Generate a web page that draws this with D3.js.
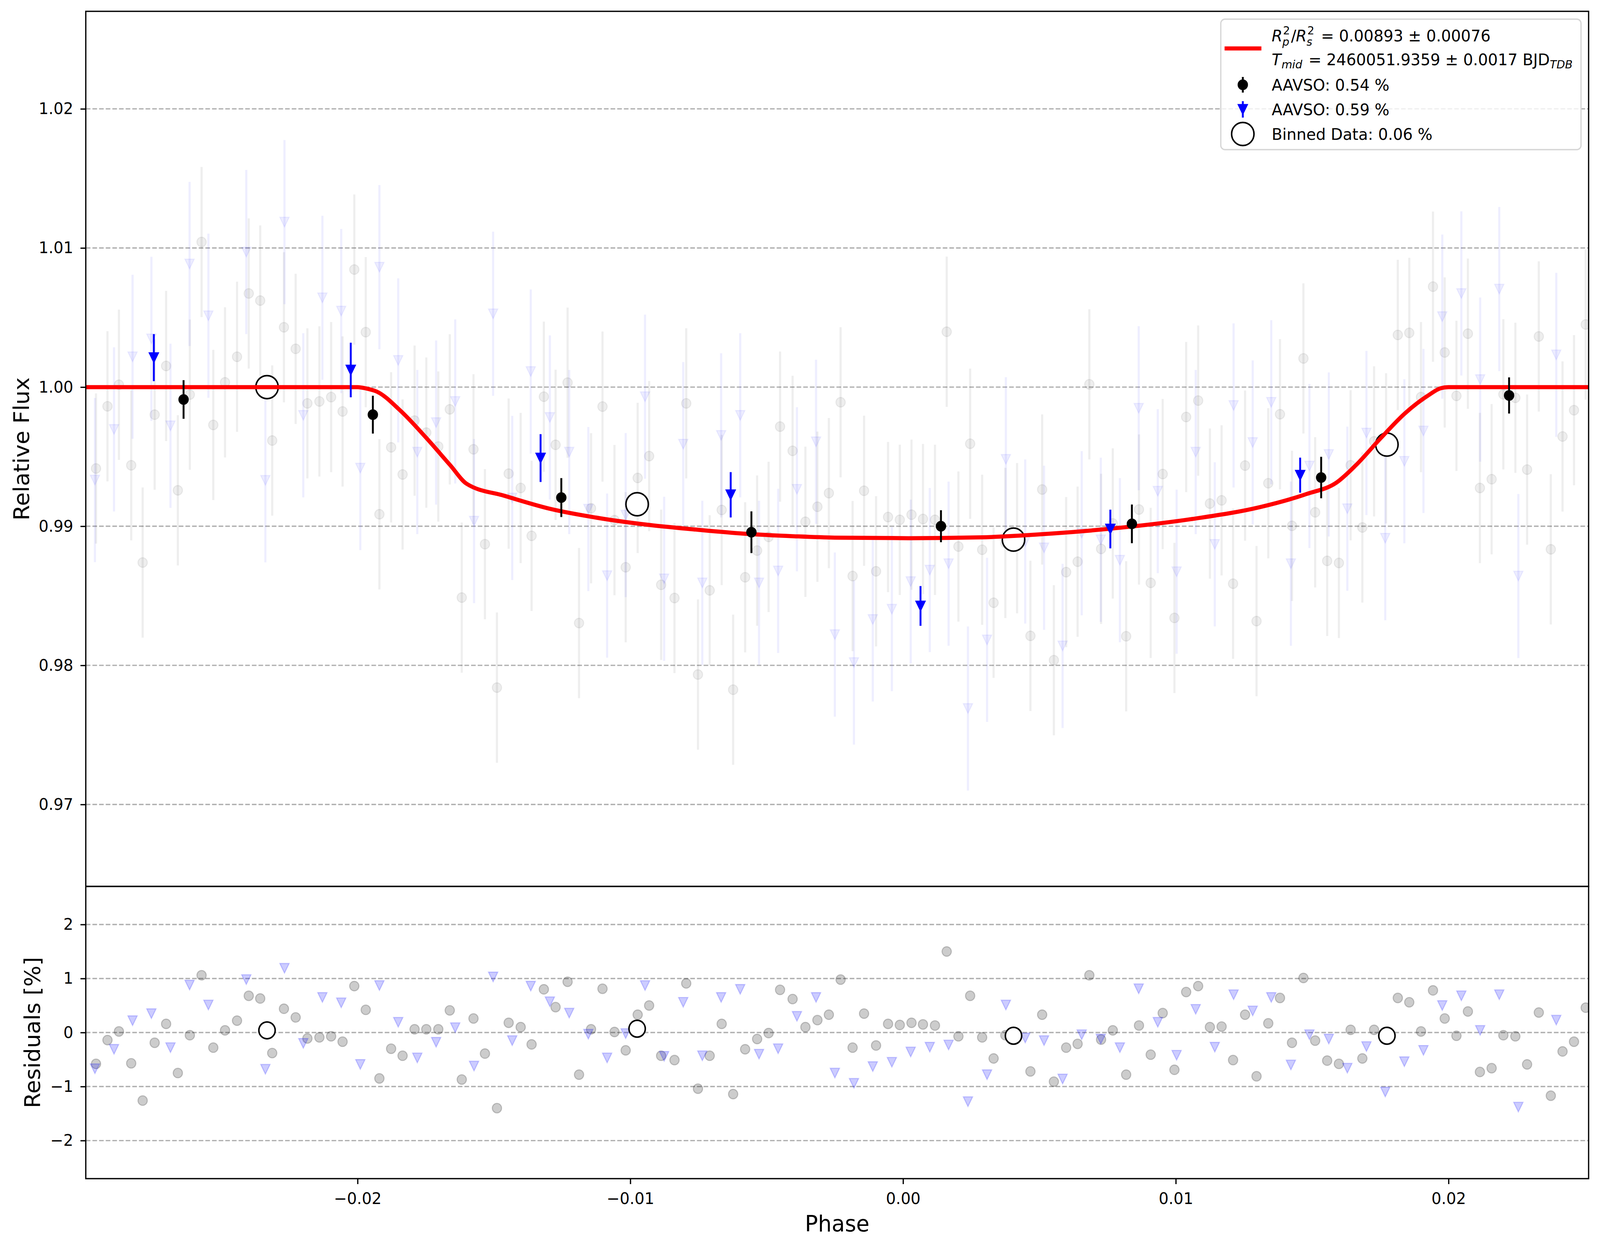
<!DOCTYPE html>
<html>
<head>
<meta charset="utf-8">
<script src="https://cdn.jsdelivr.net/npm/d3@7"></script>
<style>
  html, body { margin: 0; padding: 0; width: 100%; height: 100%; overflow: hidden; background: #fff; }
  #chart { width: 100vw; height: 100vh; }
  svg { display: block; width: 100vw; height: 100vh; }
</style>
</head>
<body>
<div id="chart"></div>
<script>
// ---- values ----

// AAVSO set 1 (grey circles): phase, relative flux, residual [%]
const grayPhase = [
  -0.02959, -0.02917, -0.02875, -0.02830, -0.02788, -0.02744, -0.02702, -0.02659, -0.02615, -0.02572,
  -0.02529, -0.02486, -0.02442, -0.02399, -0.02357, -0.02313, -0.02270, -0.02227, -0.02184, -0.02140,
  -0.02097, -0.02055, -0.02012, -0.01970, -0.01920, -0.01877, -0.01835, -0.01791, -0.01748, -0.01704,
  -0.01662, -0.01618, -0.01575, -0.01533, -0.01489, -0.01446, -0.01402, -0.01362, -0.01317, -0.01274,
  -0.01230, -0.01188, -0.01144, -0.01102, -0.01058, -0.01017, -0.00973, -0.00931, -0.00887, -0.00838,
  -0.00795, -0.00752, -0.00709, -0.00665, -0.00623, -0.00579, -0.00535, -0.00493, -0.00451, -0.00405,
  -0.00358, -0.00314, -0.00272, -0.00229, -0.00185, -0.00143, -0.00099, -0.00055, -0.00012, 0.00031,
  0.00073, 0.00117, 0.00160, 0.00203, 0.00246, 0.00290, 0.00332, 0.00375, 0.00418, 0.00467,
  0.00510, 0.00553, 0.00598, 0.00640, 0.00683, 0.00726, 0.00769, 0.00818, 0.00865, 0.00908,
  0.00952, 0.00995, 0.01038, 0.01082, 0.01125, 0.01168, 0.01210, 0.01254, 0.01296, 0.01339,
  0.01382, 0.01426, 0.01468, 0.01511, 0.01555, 0.01598, 0.01641, 0.01684, 0.01727, 0.01771,
  0.01814, 0.01856, 0.01899, 0.01943, 0.01986, 0.02029, 0.02071, 0.02115, 0.02158, 0.02201,
  0.02245, 0.02288, 0.02331, 0.02375, 0.02418, 0.02460, 0.02503];
const grayFlux = [
  0.99415, 0.99862, 1.00017, 0.99438, 0.98739, 0.99802, 1.00152, 0.99258, 0.99946, 1.01043,
  0.99728, 1.00034, 1.00218, 1.00673, 1.00622, 0.99616, 1.00430, 1.00275, 0.99883, 0.99897,
  0.99928, 0.99825, 1.00845, 1.00395, 0.99086, 0.99567, 0.99372, 0.99759, 0.99673, 0.99573,
  0.99840, 0.98487, 0.99553, 0.98871, 0.97840, 0.99378, 0.99275, 0.98931, 0.99931, 0.99585,
  1.00032, 0.98304, 0.99129, 0.99860, 0.99044, 0.98705, 0.99347, 0.99504, 0.98579, 0.98484,
  0.99883, 0.97934, 0.98539, 0.99117, 0.97825, 0.98633, 0.98825, 0.98923, 0.99716, 0.99542,
  0.99032, 0.99140, 0.99238, 0.99891, 0.98642, 0.99255, 0.98676, 0.99066, 0.99046, 0.99083,
  0.99052, 0.99046, 1.00398, 0.98854, 0.99593, 0.98831, 0.98450, 0.98880, 0.98914, 0.98212,
  0.99264, 0.98037, 0.98670, 0.98745, 1.00020, 0.98837, 0.99020, 0.98209, 0.99120, 0.98593,
  0.99375, 0.98341, 0.99785, 0.99903, 0.99163, 0.99186, 0.98587, 0.99436, 0.98318, 0.99309,
  0.99805, 0.99003, 1.00206, 0.99100, 0.98751, 0.98736, 0.99438, 0.98991, 0.99610, 0.99560,
  1.00375, 1.00390, 0.99928, 1.00722, 1.00249, 0.99937, 1.00384, 0.99275, 0.99338, 0.99948,
  0.99923, 0.99407, 1.00364, 0.98834, 0.99645, 0.99834, 1.00450];
const grayResid = [
  -0.58, -0.14, 0.02, -0.57, -1.26, -0.19, 0.16, -0.75, -0.05, 1.06,
  -0.28, 0.04, 0.22, 0.68, 0.63, -0.38, 0.44, 0.28, -0.11, -0.09,
  -0.07, -0.17, 0.86, 0.42, -0.85, -0.30, -0.43, 0.06, 0.06, 0.06,
  0.41, -0.87, 0.26, -0.39, -1.40, 0.18, 0.10, -0.22, 0.80, 0.47,
  0.94, -0.78, 0.06, 0.81, 0.01, -0.33, 0.33, 0.50, -0.43, -0.51,
  0.91, -1.04, -0.43, 0.16, -1.14, -0.31, -0.12, -0.01, 0.79, 0.62,
  0.10, 0.23, 0.33, 0.98, -0.28, 0.35, -0.24, 0.16, 0.14, 0.18,
  0.15, 0.13, 1.50, -0.07, 0.68, -0.09, -0.48, -0.05, -0.02, -0.72,
  0.33, -0.91, -0.28, -0.21, 1.06, -0.13, 0.04, -0.78, 0.13, -0.41,
  0.36, -0.69, 0.75, 0.86, 0.10, 0.11, -0.51, 0.33, -0.81, 0.17,
  0.64, -0.19, 1.01, -0.15, -0.52, -0.58, 0.05, -0.48, 0.05, -0.12,
  0.64, 0.56, 0.02, 0.78, 0.26, -0.06, 0.39, -0.73, -0.66, -0.05,
  -0.07, -0.59, 0.37, -1.17, -0.35, -0.17, 0.46];
const grayErr = 0.0054;

// AAVSO set 2 (blue triangles)
const bluePhase = [
  -0.02963, -0.02893, -0.02825, -0.02756, -0.02686, -0.02616, -0.02547, -0.02408, -0.02338, -0.02268,
  -0.02199, -0.02129, -0.02060, -0.01990, -0.01920, -0.01851, -0.01781, -0.01712, -0.01642, -0.01573,
  -0.01503, -0.01433, -0.01365, -0.01295, -0.01224, -0.01154, -0.01085, -0.01017, -0.00946, -0.00876,
  -0.00806, -0.00736, -0.00667, -0.00597, -0.00528, -0.00458, -0.00389, -0.00319, -0.00250, -0.00180,
  -0.00111, -0.00041, 0.00028, 0.00098, 0.00167, 0.00238, 0.00308, 0.00377, 0.00448, 0.00517,
  0.00585, 0.00655, 0.00725, 0.00795, 0.00864, 0.00934, 0.01003, 0.01073, 0.01143, 0.01212,
  0.01282, 0.01350, 0.01422, 0.01490, 0.01561, 0.01629, 0.01699, 0.01768, 0.01838, 0.01908,
  0.01977, 0.02047, 0.02116, 0.02186, 0.02256, 0.02395];
const blueFlux = [
  0.99332, 0.99696, 1.00218, 1.00347, 0.99722, 1.00885, 1.00513, 1.00971, 0.99330, 1.01186,
  0.99797, 1.00642, 1.00547, 0.99418, 1.00862, 1.00192, 0.99533, 0.99745, 0.99897, 0.99037,
  1.00527, 0.99203, 1.00112, 0.99782, 0.99533, 0.99123, 0.98645, 0.99080, 0.99931, 0.98622,
  0.99590, 0.98593, 0.99653, 0.99797, 0.98593, 0.98679, 0.99266, 0.99607, 0.98221, 0.98020,
  0.98330, 0.98404, 0.98602, 0.98685, 0.98731, 0.97690, 0.98183, 0.99481, 0.98890, 0.98845,
  0.98140, 0.98950, 0.98903, 0.98756, 0.99848, 0.99252, 0.98673, 0.99533, 0.98870, 0.99868,
  0.99602, 0.99891, 0.98731, 0.99433, 0.99516, 0.99126, 0.99670, 0.98914, 0.99467, 0.99685,
  1.00507, 1.00673, 1.00054, 1.00705, 0.98642, 1.00232];
const blueResid = [
  -0.67, -0.31, 0.22, 0.35, -0.28, 0.88, 0.51, 0.98, -0.68, 1.19,
  -0.20, 0.65, 0.55, -0.59, 0.87, 0.19, -0.47, -0.18, 0.09, -0.62,
  1.03, -0.15, 0.86, 0.57, 0.36, -0.03, -0.47, -0.02, 0.87, -0.44,
  0.56, -0.43, 0.65, 0.80, -0.40, -0.30, 0.30, 0.65, -0.75, -0.94,
  -0.63, -0.55, -0.36, -0.27, -0.23, -1.28, -0.78, 0.51, -0.10, -0.15,
  -0.86, -0.04, -0.12, -0.28, 0.81, 0.19, -0.42, 0.43, -0.27, 0.70,
  0.40, 0.65, -0.60, -0.04, -0.12, -0.66, -0.26, -1.10, -0.54, -0.33,
  0.50, 0.68, 0.04, 0.70, -1.38, 0.23];
const blueErr = 0.0059;

// binned set 1 (black dots)
const bin1Phase = [-0.02638, -0.01944, -0.01253, -0.00556, 0.00139, 0.00839, 0.01533, 0.02222];
const bin1Flux  = [0.99911, 0.99802, 0.99206, 0.98957, 0.99000, 0.99017, 0.99350, 0.99940];
const bin1Err   = [0.00139, 0.00136, 0.00140, 0.00150, 0.00115, 0.00139, 0.00149, 0.00130];

// binned set 2 (blue triangles)
const bin2Phase = [-0.02747, -0.02025, -0.01329, -0.00632, 0.00064, 0.00760, 0.01456];
const bin2Flux  = [1.00212, 1.00123, 0.99490, 0.99226, 0.98427, 0.98980, 0.99367];
const bin2Err   = [0.00169, 0.00196, 0.00172, 0.00163, 0.00143, 0.00139, 0.00126];

// binned data, both sets (open circles)
const binAllPhase = [-0.02332, -0.00975, 0.00405, 0.01774];
const binAllFlux  = [1.00000, 0.99158, 0.98904, 0.99587];
const binAllResid = [0.04, 0.07, -0.06, -0.06];

// transit model (red line)
const modelPhase = [-0.0300, -0.0200, -0.0197, -0.0193, -0.0184, -0.0175, -0.0166, -0.0160, -0.0146,
  -0.0129, -0.0111, -0.0093, -0.0075, -0.0058, -0.0040, -0.0025, 0.0002, 0.0028, 0.0055, 0.0082,
  0.0106, 0.0131, 0.0148, 0.0159, 0.0166, 0.0175, 0.0184, 0.0193, 0.0197, 0.0200, 0.0252];
const modelFlux = [1.0, 1.0, 0.99991, 0.99968, 0.99825, 0.99639, 0.99438, 0.99305, 0.99218,
  0.99123, 0.99057, 0.99009, 0.98974, 0.98946, 0.98928, 0.98918, 0.98914, 0.98920, 0.98948, 0.98994,
  0.99052, 0.99138, 0.99232, 0.99315, 0.99438, 0.99630, 0.99811, 0.99946, 0.99991, 1.0, 1.0];

// ticks
const phaseTicks = [-0.02, -0.01, 0.00, 0.01, 0.02];
const fluxTicks = [0.97, 0.98, 0.99, 1.00, 1.01, 1.02];
const residTicks = [-2, -1, 0, 1, 2];

const legendLabels = ["AAVSO: 0.54 %", "AAVSO: 0.59 %", "Binned Data: 0.06 %"];

// ---- layout (figure pixels, scaled to the window with a viewBox) ----
const W = 4215, H = 3192;
const plotLeft = 226, plotRight = 4185, topY = 29, midY = 2269, bottomY = 3017;
const FONT = "DejaVu Sans";

const svg = d3.select("#chart").append("svg")
  .attr("viewBox", `0 0 ${W} ${H}`)
  .attr("preserveAspectRatio", "none")
  .attr("font-family", FONT);

svg.append("rect").attr("width", W).attr("height", H).attr("fill", "#fff");

const x = d3.scaleLinear().domain([-0.029965, 0.025136]).range([plotLeft, plotRight]);
const yFlux = d3.scaleLinear().domain([0.96411, 1.02701]).range([midY, topY]);
const yRes = d3.scaleLinear().domain([-2.705, 2.705]).range([bottomY, midY]);

const defs = svg.append("defs");
defs.append("clipPath").attr("id", "clipTop").append("rect")
  .attr("x", plotLeft).attr("y", topY).attr("width", plotRight - plotLeft).attr("height", midY - topY);
defs.append("clipPath").attr("id", "clipBot").append("rect")
  .attr("x", plotLeft).attr("y", midY).attr("width", plotRight - plotLeft).attr("height", bottomY - midY);

// triangle_down marker path
const tri = (cx, cy, s) => `M${cx},${cy + s}L${cx - s},${cy - s}L${cx + s},${cy - s}Z`;
const MS = 12.3;

function drawGrid(scale, ticks) {
  svg.append("g").selectAll("line").data(ticks).join("line")
    .attr("x1", plotLeft).attr("x2", plotRight)
    .attr("y1", d => scale(d)).attr("y2", d => scale(d))
    .attr("stroke", "#b0b0b0").attr("stroke-width", 3.3)
    .attr("stroke-dasharray", "12.2,5.3");
}

const gray = grayPhase.map((p, i) => ({p, f: grayFlux[i], r: grayResid[i]}));
const blue = bluePhase.map((p, i) => ({p, f: blueFlux[i], r: blueResid[i]}));

// ================= top panel =================
drawGrid(yFlux, fluxTicks);
const topG = svg.append("g").attr("clip-path", "url(#clipTop)");

// raw set 1
const gTop1 = topG.append("g");
gTop1.selectAll("line").data(gray).join("line")
  .attr("x1", d => x(d.p)).attr("x2", d => x(d.p))
  .attr("y1", d => yFlux(d.f - grayErr)).attr("y2", d => yFlux(d.f + grayErr))
  .attr("stroke", "#000").attr("stroke-opacity", 0.065).attr("stroke-width", 5.7);
gTop1.selectAll("circle").data(gray).join("circle")
  .attr("cx", d => x(d.p)).attr("cy", d => yFlux(d.f)).attr("r", MS)
  .attr("fill", "#000").attr("fill-opacity", 0.065)
  .attr("stroke", "#000").attr("stroke-opacity", 0.065).attr("stroke-width", 2.7);

// raw set 2
const gTop2 = topG.append("g");
gTop2.selectAll("line").data(blue).join("line")
  .attr("x1", d => x(d.p)).attr("x2", d => x(d.p))
  .attr("y1", d => yFlux(d.f - blueErr)).attr("y2", d => yFlux(d.f + blueErr))
  .attr("stroke", "#00f").attr("stroke-opacity", 0.065).attr("stroke-width", 5.7);
gTop2.selectAll("path").data(blue).join("path")
  .attr("d", d => tri(x(d.p), yFlux(d.f), MS))
  .attr("fill", "#00f").attr("fill-opacity", 0.065)
  .attr("stroke", "#00f").attr("stroke-opacity", 0.065).attr("stroke-width", 2.7);

// binned, both sets
topG.append("g").selectAll("circle").data(binAllPhase).join("circle")
  .attr("cx", d => x(d)).attr("cy", (d, i) => yFlux(binAllFlux[i])).attr("r", 29.5)
  .attr("fill", "#fff").attr("stroke", "#000").attr("stroke-width", 4);

// model
topG.append("path")
  .datum(modelPhase.map((p, i) => [p, modelFlux[i]]))
  .attr("d", d3.line().x(d => x(d[0])).y(d => yFlux(d[1])).curve(d3.curveMonotoneX))
  .attr("fill", "none").attr("stroke", "#ff0000").attr("stroke-width", 10.5);

// binned set 1
const gB1 = topG.append("g");
gB1.selectAll("line").data(bin1Phase).join("line")
  .attr("x1", d => x(d)).attr("x2", d => x(d))
  .attr("y1", (d, i) => yFlux(bin1Flux[i] - bin1Err[i])).attr("y2", (d, i) => yFlux(bin1Flux[i] + bin1Err[i]))
  .attr("stroke", "#000").attr("stroke-width", 5);
gB1.selectAll("circle").data(bin1Phase).join("circle")
  .attr("cx", d => x(d)).attr("cy", (d, i) => yFlux(bin1Flux[i])).attr("r", MS)
  .attr("fill", "#000").attr("stroke", "#000").attr("stroke-width", 2.7);

// binned set 2
const gB2 = topG.append("g");
gB2.selectAll("line").data(bin2Phase).join("line")
  .attr("x1", d => x(d)).attr("x2", d => x(d))
  .attr("y1", (d, i) => yFlux(bin2Flux[i] - bin2Err[i])).attr("y2", (d, i) => yFlux(bin2Flux[i] + bin2Err[i]))
  .attr("stroke", "#00f").attr("stroke-width", 5);
gB2.selectAll("path").data(bin2Phase).join("path")
  .attr("d", (d, i) => tri(x(d), yFlux(bin2Flux[i]), MS))
  .attr("fill", "#00f").attr("stroke", "#00f").attr("stroke-width", 2.7);

// ================= residual panel =================
drawGrid(yRes, residTicks);
const botG = svg.append("g").attr("clip-path", "url(#clipBot)");

botG.append("g").selectAll("circle").data(gray).join("circle")
  .attr("cx", d => x(d.p)).attr("cy", d => yRes(d.r)).attr("r", MS)
  .attr("fill", "#000").attr("fill-opacity", 0.2)
  .attr("stroke", "#000").attr("stroke-opacity", 0.2).attr("stroke-width", 2.7);

botG.append("g").selectAll("path").data(blue).join("path")
  .attr("d", d => tri(x(d.p), yRes(d.r), MS))
  .attr("fill", "#00f").attr("fill-opacity", 0.2)
  .attr("stroke", "#00f").attr("stroke-opacity", 0.2).attr("stroke-width", 2.7);

botG.append("g").selectAll("circle").data(binAllPhase).join("circle")
  .attr("cx", d => x(d)).attr("cy", (d, i) => yRes(binAllResid[i])).attr("r", 21.5)
  .attr("fill", "#fff").attr("stroke", "#000").attr("stroke-width", 4);

// ================= axes =================
function styleAxis(g) {
  g.select(".domain").remove();
  g.selectAll(".tick line").attr("stroke", "#000").attr("stroke-width", 3.3);
  g.selectAll(".tick text").attr("font-size", 41).attr("font-family", FONT).attr("fill", "#000");
}

svg.append("g").attr("transform", `translate(${plotLeft},0)`)
  .call(d3.axisLeft(yFlux).tickValues(fluxTicks).tickFormat(d3.format(".2f"))
    .tickSize(14).tickPadding(19))
  .call(styleAxis);

svg.append("g").attr("transform", `translate(${plotLeft},0)`)
  .call(d3.axisLeft(yRes).tickValues(residTicks).tickFormat(d3.format("d"))
    .tickSize(14).tickPadding(19))
  .call(styleAxis);

svg.append("g").attr("transform", `translate(0,${bottomY})`)
  .call(d3.axisBottom(x).tickValues(phaseTicks).tickFormat(d3.format(".2f"))
    .tickSize(14).tickPadding(22))
  .call(styleAxis);

// spines
[[topY, midY], [midY, bottomY]].forEach(([a, b]) => {
  svg.append("rect")
    .attr("x", plotLeft).attr("y", a).attr("width", plotRight - plotLeft).attr("height", b - a)
    .attr("fill", "none").attr("stroke", "#000").attr("stroke-width", 3.3);
});

// axis labels
svg.append("text")
  .attr("x", (plotLeft + plotRight) / 2).attr("y", 3152)
  .attr("text-anchor", "middle").attr("font-size", 57)
  .text("Phase");
svg.append("text")
  .attr("transform", `translate(76,${(topY + midY) / 2}) rotate(-90)`)
  .attr("text-anchor", "middle").attr("font-size", 57)
  .text("Relative Flux");
svg.append("text")
  .attr("transform", `translate(105,${(midY + bottomY) / 2}) rotate(-90)`)
  .attr("text-anchor", "middle").attr("font-size", 57)
  .text("Residuals [%]");

// ================= legend =================
const lg = svg.append("g");
lg.append("rect")
  .attr("x", 3216).attr("y", 49).attr("width", 949).attr("height", 334).attr("rx", 11)
  .attr("fill", "#fff").attr("fill-opacity", 0.8)
  .attr("stroke", "#d6d6d6").attr("stroke-width", 3.3);

const hx = 3274, tx = 3350;
lg.append("line").attr("x1", 3226).attr("x2", 3323).attr("y1", 124).attr("y2", 124)
  .attr("stroke", "#ff0000").attr("stroke-width", 10.5);

// line 1: Rp^2/Rs^2
const t1 = lg.append("text").attr("font-size", 41).attr("y", 106);
t1.append("tspan").attr("x", tx).attr("y", 106).attr("font-style", "italic").text("R");
t1.append("tspan").attr("x", 3378).attr("y", 117).attr("font-size", 29).attr("font-style", "italic").text("p");
t1.append("tspan").attr("x", 3380).attr("y", 88).attr("font-size", 29).text("2");
t1.append("tspan").attr("x", 3401).attr("y", 106).text("/");
t1.append("tspan").attr("x", 3414).attr("y", 106).attr("font-style", "italic").text("R");
t1.append("tspan").attr("x", 3442).attr("y", 117).attr("font-size", 29).attr("font-style", "italic").text("s");
t1.append("tspan").attr("x", 3444).attr("y", 88).attr("font-size", 29).text("2");
t1.append("tspan").attr("x", 3480).attr("y", 106).text("= 0.00893 \u00b1 0.00076");

// line 2: Tmid
const t2 = lg.append("text").attr("font-size", 41).attr("y", 167);
t2.append("tspan").attr("x", tx).attr("y", 167).attr("font-style", "italic").text("T");
t2.append("tspan").attr("x", 3376).attr("y", 175).attr("font-size", 29).attr("font-style", "italic").text("mid");
t2.append("tspan").attr("x", 3447).attr("y", 167).text("= 2460051.9359 \u00b1 0.0017 BJD");
t2.append("tspan").attr("dy", 8).attr("font-size", 29).attr("font-style", "italic").text("TDB");

// set 1 handle
lg.append("line").attr("x1", hx).attr("x2", hx).attr("y1", 197).attr("y2", 237)
  .attr("stroke", "#000").attr("stroke-width", 5);
lg.append("circle").attr("cx", hx).attr("cy", 217).attr("r", MS)
  .attr("fill", "#000").attr("stroke", "#000").attr("stroke-width", 2.7);
// set 2 handle
lg.append("line").attr("x1", hx).attr("x2", hx).attr("y1", 259).attr("y2", 301)
  .attr("stroke", "#00f").attr("stroke-width", 5);
lg.append("path").attr("d", tri(hx, 280, MS))
  .attr("fill", "#00f").attr("stroke", "#00f").attr("stroke-width", 2.7);
// binned handle
lg.append("circle").attr("cx", hx).attr("cy", 343).attr("r", 29.5)
  .attr("fill", "#fff").attr("stroke", "#000").attr("stroke-width", 4);

lg.selectAll("text.lab").data(legendLabels).join("text")
  .attr("class", "lab")
  .attr("x", tx).attr("y", (d, i) => 232 + i * 63)
  .attr("font-size", 41)
  .text(d => d);
</script>
</body>
</html>
